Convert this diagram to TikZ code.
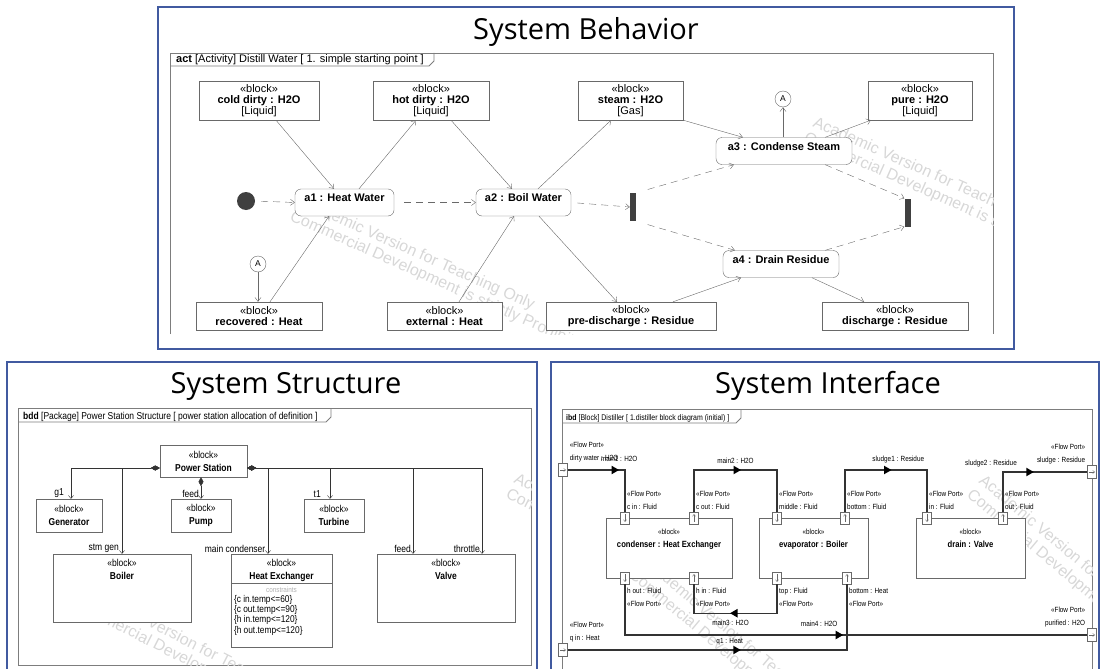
\documentclass[tikz,border=0pt]{standalone}
\usepackage{fontspec}
\setmainfont{Liberation Sans}
\newfontfamily\titlefont{Open Sans}
\newfontfamily\narrow[FakeStretch=0.85]{Liberation Sans}
\usetikzlibrary{arrows.meta,shapes.geometric}
\definecolor{panelblue}{RGB}{65,90,160}
\definecolor{framegray}{RGB}{125,125,125}
\definecolor{linegray}{RGB}{105,105,105}
\definecolor{wmgray}{RGB}{215,215,215}
\begin{document}
\begin{tikzpicture}[x=1pt, y=-1pt,
  panel/.style={draw=panelblue, line width=1.3pt},
  dframe/.style={draw=framegray, line width=.9pt},
  ptitle/.style={font=\titlefont\fontsize{29}{31}\selectfont},
  tabtxt/.style={anchor=base west, inner sep=0pt},
  wm/.style={text=wmgray, anchor=base west, inner sep=0pt, font=\fontsize{16}{16}\selectfont},
  ablk/.style 2 args={draw=linegray, fill=white, align=center, inner sep=0pt,
    minimum width=#1, minimum height=#2, font=\fontsize{11}{11}\selectfont},
  actn/.style={draw=linegray, fill=white, rounded corners=6pt, minimum width=#1,
    minimum height=27, text height=8, text depth=10, inner sep=1pt,
    font=\bfseries\fontsize{11}{12}\selectfont},
  forkbar/.style={fill=black!75, minimum width=6, minimum height=28, inner sep=0pt},
  conA/.style={draw=linegray, fill=white, circle, minimum size=16, inner sep=0pt,
    font=\fontsize{8.5}{8.5}\selectfont},
  flow/.style={draw=linegray, -{Straight Barb[length=4pt,width=6pt]}},
  ctrl/.style={flow, dash pattern=on 7pt off 5pt},
  sblk/.style 2 args={draw=linegray, fill=white, align=center, inner sep=0pt,
    minimum width=#1, minimum height=#2, font=\narrow\fontsize{10}{13}\selectfont},
  tblbl/.style={anchor=north, align=center, yshift=-2pt, font=\narrow\fontsize{10}{13}\selectfont},
  comp/.style={draw=black!80, {Diamond[length=9pt,width=5pt]}-{Straight Barb[length=3pt,width=5pt]}},
  rlbl/.style={anchor=south east, inner sep=1pt, font=\narrow\fontsize{10}{10}\selectfont},
  iblk/.style={draw=linegray, fill=white, minimum width=#1, minimum height=60, inner sep=0pt},
  iname/.style={anchor=north, align=center, yshift=-8pt, font=\narrow\fontsize{7.5}{13}\selectfont},
  port/.style={draw=linegray, fill=white, minimum width=9, minimum height=12, inner sep=0pt},
  portdn/.style={port, path picture={\draw[-{Straight Barb[length=2pt,width=3pt]}]
    ([yshift=-2pt]path picture bounding box.north) -- ([yshift=2pt]path picture bounding box.south);}},
  portup/.style={port, path picture={\draw[-{Straight Barb[length=2pt,width=3pt]}]
    ([yshift=2pt]path picture bounding box.south) -- ([yshift=-2pt]path picture bounding box.north);}},
  portrt/.style={port, minimum height=13, path picture={\draw[-{Straight Barb[length=2pt,width=3pt]}]
    ([xshift=1.5pt]path picture bounding box.west) -- ([xshift=-1.5pt]path picture bounding box.east);}},
  conn/.style={draw=black!80, line width=1.3pt},
  tri/.style={isosceles triangle, isosceles triangle apex angle=60, fill=black,
    inner sep=2pt, sloped, allow upside down},
  plbl/.style={inner sep=0pt, font=\narrow\fontsize{7.5}{13}\selectfont},
  clbl/.style={inner sep=0pt, font=\narrow\fontsize{7.5}{8}\selectfont}]
\useasboundingbox (0,0) rectangle (1100,669);

% system behavior
\draw[panel] (158,7) rectangle (1014,349);
\node[ptitle] (tbeh) at (586,32) {System Behavior};
\draw[dframe] (170,334) |- (993,53) -- (993,334);
\draw[dframe] (170,66) -- (429,66) -- (434,61) -- (434,53);
\node[tabtxt, font=\fontsize{11}{12}\selectfont] (tact) at (176,63)
  {\textbf{act} [Activity] Distill Water [ 1. simple starting point ]};
\begin{scope}
  \clip (170,53) rectangle (993,334);
  \node[wm, rotate=-24] at (297,205) {Academic Version for Teaching Only};
  \node[wm, rotate=-24] at (289,220) {Commercial Development is strictly Prohibited};
  \node[wm, rotate=-24] at (812,126) {Academic Version for Teaching Only};
  \node[wm, rotate=-24] at (803,141) {Commercial Development is strictly Prohibited};
\end{scope}

\node[ablk={120}{39}] (cold) at (259,100.5) {«block»\\\textbf{cold dirty : H2O}\\{}[Liquid]};
\node[ablk={116}{39}] (hot) at (431,100.5) {«block»\\\textbf{hot dirty : H2O}\\{}[Liquid]};
\node[ablk={105}{39}] (steam) at (630.5,100.5) {«block»\\\textbf{steam : H2O}\\{}[Gas]};
\node[ablk={104}{39}] (pure) at (920,100.5) {«block»\\\textbf{pure : H2O}\\{}[Liquid]};
\node[ablk={126}{28}] (recov) at (259,316) {«block»\\\textbf{recovered : Heat}};
\node[ablk={115}{28}] (ext) at (444.5,316) {«block»\\\textbf{external : Heat}};
\node[ablk={170}{28}] (pre) at (631,316) {«block»\\\textbf{pre-discharge : Residue}};
\node[ablk={146}{28}] (dis) at (895,316) {«block»\\\textbf{discharge : Residue}};
\node[actn=99] (a1) at (344.5,202.5) {a1 : Heat Water};
\node[actn=95] (a2) at (523.5,202.5) {a2 : Boil Water};
\node[actn=136] (a3) at (784,151) {a3 : Condense Steam};
\node[actn=116] (a4) at (781,264) {a4 : Drain Residue};
\node[circle, fill=black!75, minimum size=18, inner sep=0pt] (init) at (246,201) {};
\node[forkbar] (fork) at (633,207) {};
\node[forkbar] (join) at (907.5,212.5) {};
\node[conA] (ca1) at (783,99) {A};
\node[conA] (ca2) at (258,264) {A};

\draw[flow] ([xshift=17pt]cold.south) -- ([xshift=-10.5pt]a1.north);
\draw[flow] ([xshift=14.5pt]a1.north) -- ([xshift=-15pt]hot.south);
\draw[flow] ([xshift=20pt]hot.south) -- ([xshift=-11.5pt]a2.north);
\draw[flow] ([xshift=14.5pt]a2.north) -- ([xshift=-19.5pt]steam.south);
\draw[flow] (steam.south east) -- ([xshift=27pt]a3.north west);
\draw[flow] ([xshift=-27pt]a3.north east) -- ([xshift=3pt]pure.south west);
\draw[flow] (a3.north -| ca1) -- (ca1.south);
\draw[flow] (ca2.south) -- (recov.north -| ca2);
\draw[flow] ([xshift=11pt]recov.north) -- ([xshift=-15.5pt]a1.south);
\draw[flow] ([xshift=14.5pt]ext.north) -- ([xshift=-9.5pt]a2.south);
\draw[flow] ([xshift=15.5pt]a2.south) -- ([xshift=-14pt]pre.north);
\draw[flow] ([xshift=42pt]pre.north) -- ([xshift=-40pt]a4.south);
\draw[flow] ([xshift=31pt]a4.south) -- ([xshift=-31pt]dis.north);
\draw[ctrl, shorten <=6pt] (init.east) -- (a1.west);
\draw[ctrl, shorten <=10pt] (a1.east) -- (a2.west);
\draw[ctrl, shorten <=6pt] (a2.east) -- (fork.west);
\draw[ctrl, shorten <=12pt] (fork.north east) -- ([xshift=18pt]a3.south west);
\draw[ctrl, shorten <=12pt] (fork.south east) -- ([xshift=12pt]a4.north west);
\draw[ctrl] ([xshift=-27pt]a3.south east) -- (join.north west);
\draw[ctrl] ([xshift=-14pt]a4.north east) -- (join.south west);

% system structure
\draw[panel] (7,669) |- (537,362) -- (537,669);
\node[ptitle] (tstr) at (286,386) {System Structure};
\draw[dframe] (18,408) rectangle (531,665);
\draw[dframe] (18,422) -- (326,422) -- (331,417) -- (331,408);
\node[tabtxt, font=\narrow\fontsize{10}{10}\selectfont] (tbdd) at (23,419)
  {\textbf{bdd} [Package] Power Station Structure [ power station allocation of definition ]};
\begin{scope}
  \clip (18,408) rectangle (531,665);
  \node[wm, rotate=-27] at (80,592) {Academic Version for Teaching Only};
  \node[wm, rotate=-27] at (72,607) {Commercial Development is strictly Prohibited};
  \node[wm, rotate=-27] at (513,482) {Academic Version for Teaching Only};
  \node[wm, rotate=-27] at (505,497) {Commercial Development is strictly Prohibited};
\end{scope}

\node[sblk={87}{32}] (ps) at (203.5,461) {«block»\\\textbf{Power Station}};
\node[sblk={66}{33}] (gen) at (69,515.5) {«block»\\\textbf{Generator}};
\node[sblk={60}{33}] (pump) at (201,515.5) {«block»\\\textbf{Pump}};
\node[sblk={60}{33}] (turb) at (334,515.5) {«block»\\\textbf{Turbine}};
\node[sblk={138}{68}, label={[tblbl]north:{«block»\\\textbf{Boiler}}}] (boil) at (122,588) {};
\node[sblk={101}{93}, label={[tblbl]north:{«block»\\\textbf{Heat Exchanger}}}] (hx) at (281.5,600.5) {};
\node[sblk={138}{68}, label={[tblbl]north:{«block»\\\textbf{Valve}}}] (valve) at (446,588) {};
\draw[linegray] ([yshift=-29pt]hx.north west) -- ([yshift=-29pt]hx.north east);
\node[text=gray!60, font=\narrow\fontsize{7.5}{8}\selectfont] (hxc) at ([yshift=-36pt]hx.north) {constraints};
\node[anchor=north west, align=left, inner sep=0pt, font=\narrow\fontsize{9.8}{10.3}\selectfont] (hxk)
  at ([xshift=3pt, yshift=-41pt]hx.north west)
  {\{c in.temp<=60\}\\\{c out.temp<=90\}\\\{h in.temp<=120\}\\\{h out.temp<=120\}};

\draw[comp] ([yshift=-7pt]ps.west) -| ([xshift=2pt]gen.north);
\draw[comp] ([yshift=-7pt]ps.west) -| (boil.north);
\draw[comp] ([yshift=-7pt]ps.east) -| ([xshift=-13.5pt]hx.north);
\draw[comp] ([yshift=-7pt]ps.east) -| ([xshift=-4pt]turb.north);
\draw[comp] ([yshift=-7pt]ps.east) -| ([xshift=-33pt]valve.north);
\draw[comp] ([yshift=-7pt]ps.east) -| ([xshift=36pt]valve.north);
\draw[comp] ([xshift=-2.5pt]ps.south) -- (pump.north);
\node[rlbl] at ([xshift=-4pt]gen.north) {g1};
\node[rlbl] at ([xshift=-1pt]pump.north) {feed};
\node[rlbl] at ([xshift=-12pt]turb.north) {t1};
\node[rlbl] at ([xshift=-2pt]boil.north) {stm gen};
\node[rlbl] at ([xshift=-15pt]hx.north) {main condenser};
\node[rlbl] at ([xshift=-34pt]valve.north) {feed};
\node[rlbl] at ([xshift=35pt]valve.north) {throttle};

% system interface
\draw[panel] (551,669) |- (1099,362) -- (1099,669);
\node[ptitle] (tint) at (828,386) {System Interface};
\draw[dframe] (562,669) |- (1092,409) -- (1092,669);
\draw[dframe] (562,423) -- (736,423) -- (741,418) -- (741,409);
\node[tabtxt, font=\narrow\fontsize{8.2}{9}\selectfont] (tibd) at (566,420)
  {\textbf{ibd} [Block] Distiller [ 1.distiller block diagram (initial) ]};
\begin{scope}
  \clip (562,409) rectangle (1092,669);
  \node[wm, rotate=-40] at (640,562) {Academic Version for Teaching Only};
  \node[wm, rotate=-40] at (628,576) {Commercial Development is strictly Prohibited};
  \node[wm, rotate=-40] at (978,482) {Academic Version for Teaching Only};
  \node[wm, rotate=-40] at (966,496) {Commercial Development is strictly Prohibited};
\end{scope}

\node[iblk=126, label={[iname]north:{«block»\\\textbf{\fontsize{9}{13}\selectfont condenser : Heat Exchanger}}}] (cond) at (669,548) {};
\node[iblk=109, label={[iname]north:{«block»\\\textbf{\fontsize{9}{13}\selectfont evaporator : Boiler}}}] (evap) at (813.5,548) {};
\node[iblk=109, label={[iname]north:{«block»\\\textbf{\fontsize{9}{13}\selectfont drain : Valve}}}] (drain) at (970.5,548) {};
\node[portdn] (cin) at (625,518) {};
\node[portup] (cout) at (694,518) {};
\node[portdn] (emid) at (777,518) {};
\node[portup] (ebotf) at (845,518) {};
\node[portdn] (din) at (927,518) {};
\node[portup] (dout) at (1003,518) {};
\node[portdn] (hout) at (625,578) {};
\node[portup] (hin) at (694,578) {};
\node[portdn] (etop) at (777,578) {};
\node[portup] (ebot) at (847,578) {};
\node[portrt] (dw) at (563,470) {};
\node[portrt] (qin) at (563,650) {};
\node[portrt] (slg) at (1092,472) {};
\node[portrt] (pur) at (1092,635) {};

\node[plbl, align=left, anchor=south west] at ([xshift=2pt,yshift=2pt]cin.north) {«Flow Port»\\c in : Fluid};
\node[plbl, align=left, anchor=south west] at ([xshift=2pt,yshift=2pt]cout.north) {«Flow Port»\\c out : Fluid};
\node[plbl, align=left, anchor=south west] at ([xshift=2pt,yshift=2pt]emid.north) {«Flow Port»\\middle : Fluid};
\node[plbl, align=left, anchor=south west] at ([xshift=2pt,yshift=2pt]ebotf.north) {«Flow Port»\\bottom : Fluid};
\node[plbl, align=left, anchor=south west] at ([xshift=2pt,yshift=2pt]din.north) {«Flow Port»\\in : Fluid};
\node[plbl, align=left, anchor=south west] at ([xshift=2pt,yshift=2pt]dout.north) {«Flow Port»\\out : Fluid};
\node[plbl, align=left, anchor=north west] at ([xshift=2pt,yshift=-4pt]hout.south) {h out : Fluid\\«Flow Port»};
\node[plbl, align=left, anchor=north west] at ([xshift=2pt,yshift=-4pt]hin.south) {h in : Fluid\\«Flow Port»};
\node[plbl, align=left, anchor=north west] at ([xshift=2pt,yshift=-4pt]etop.south) {top : Fluid\\«Flow Port»};
\node[plbl, align=left, anchor=north west] at ([xshift=2pt,yshift=-4pt]ebot.south) {bottom : Heat\\«Flow Port»};
\node[plbl, align=left, anchor=south west] at ([xshift=2pt,yshift=1pt]dw.north east) {«Flow Port»\\dirty water : H2O};
\node[plbl, align=left, anchor=south west] at ([xshift=2pt,yshift=1pt]qin.north east) {«Flow Port»\\q in : Heat};
\node[plbl, align=right, anchor=south east] at ([xshift=-2pt,yshift=1pt]slg.north west) {«Flow Port»\\sludge : Residue};
\node[plbl, align=right, anchor=south east] at ([xshift=-2pt,yshift=1pt]pur.north west) {«Flow Port»\\purified : H2O};

\draw[conn] (dw.east) -- node[tri, pos=.8]{} node[clbl, above=8pt, pos=.9]{main1 : H2O}
  (cin.north |- dw.east) -- (cin.north);
\draw[conn] (cout.north) -- (cout.north |- dw.east) -- node[tri]{} node[clbl, above=6pt]{main2 : H2O}
  (emid.north |- dw.east) -- (emid.north);
\draw[conn] (ebotf.north) -- (ebotf.north |- dw.east) -- node[tri]{} node[clbl, above=6pt, pos=.65]{sludge1 : Residue}
  (din.north |- dw.east) -- (din.north);
\draw[conn] (dout.north) -- (dout.north |- slg.west) -- node[tri, pos=.3]{}
  node[clbl, above=4pt, pos=0, xshift=-12pt]{sludge2 : Residue} (slg.west);
\draw[conn] (etop.south) -- ++(0,29) -| node[tri, pos=.25]{} node[clbl, below=6pt, pos=.28]{main3 : H2O} (hin.south);
\draw[conn] (hout.south) |- node[tri, pos=.73]{} node[clbl, above=8pt, pos=.71]{main4 : H2O} (pur.west);
\draw[conn] (qin.east) -| node[tri, pos=.3]{} node[clbl, above=4pt, pos=.29]{q1 : Heat} (ebot.south);
\end{tikzpicture}
\end{document}
